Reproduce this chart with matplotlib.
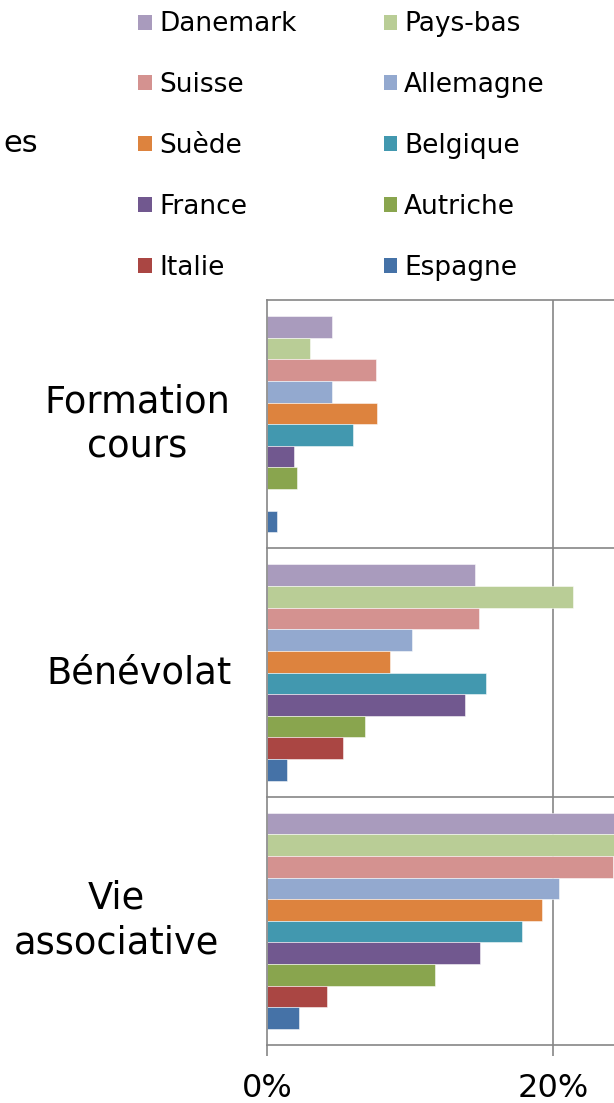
import numpy as np
import matplotlib.pyplot as plt
from matplotlib.patches import Patch
from matplotlib.transforms import blended_transform_factory

# categories (top to bottom) and series (top to bottom within a group)
categories = ['Formation\ncours', 'Bénévolat', 'Vie\nassociative']
pays = ['Danemark', 'Pays-bas', 'Suisse', 'Allemagne', 'Suède',
        'Belgique', 'France', 'Autriche', 'Italie', 'Espagne']
couleurs = ['#A99BBD', '#B9CD96', '#D49290', '#93A9CF', '#DD833E',
            '#4298AF', '#71588F', '#89A54E', '#AA4643', '#4572A7']

# valeurs en % : [Formation cours, Bénévolat, Vie associative]
danemark = [4.5, 14.5, 26.0]
pays_bas = [3.0, 21.4, 25.5]
suisse = [7.6, 14.8, 24.2]
allemagne = [4.5, 10.1, 20.4]
suede = [7.7, 8.6, 19.2]
belgique = [6.0, 15.3, 17.8]
france = [1.9, 13.8, 14.9]
autriche = [2.1, 6.8, 11.7]
italie = [0.0, 5.3, 4.2]
espagne = [0.7, 1.4, 2.2]
valeurs = [danemark, pays_bas, suisse, allemagne, suede,
           belgique, france, autriche, italie, espagne]

xticks = [0, 20]
xticklabels = ['0%', '20%']

W, H = 614, 1103
fig = plt.figure(figsize=(W / 100, H / 100), dpi=100)
ax = fig.add_axes([267.3 / W, (H - 1045) / H, (W - 267.3) / W, 745 / H])

n = len(pays)
h = 0.0871
y = np.arange(len(categories))
for j in range(n):
    ax.barh(y + (j - (n - 1) / 2) * h, valeurs[j], height=h,
            color=couleurs[j], edgecolor=(1, 1, 1, 0.6), linewidth=0.6,
            label=pays[j], zorder=2)

ax.set_xlim(0, (W - 267.3) / 14.3)
ax.set_ylim(len(categories) - 0.5, -0.5)

grey = '#868686'
ax.axvline(20, color=grey, lw=1.2, zorder=1)
for b in np.arange(-0.5, len(categories), 1.0):
    ax.axhline(b, color=grey, lw=1.2, zorder=1, clip_on=False)

for s in ['top', 'right', 'bottom']:
    ax.spines[s].set_visible(False)
ax.spines['left'].set_color(grey)
ax.spines['left'].set_linewidth(1.2)

ax.set_xticks(xticks)
ax.set_xticklabels(xticklabels, fontsize=23)
ax.tick_params(axis='x', length=8, width=1.2, color=grey, pad=12)
ax.set_yticks([])

# category labels
label_cx = [137, 139, 116]
tr = blended_transform_factory(fig.transFigure, ax.transData)
for i, cat in enumerate(categories):
    ax.text(label_cx[i] / W, y[i], cat, transform=tr, ha='center',
            va='center', fontsize=26.5, multialignment='center',
            linespacing=1.28)

fig.text(38 / W, 1 - 143 / H, 'es', ha='right', va='center', fontsize=22)

handles = [Patch(facecolor=c, edgecolor='none') for c in couleurs]
order = list(range(0, n, 2)) + list(range(1, n, 2))
fig.legend([handles[k] for k in order], [pays[k] for k in order],
           ncol=2, loc='upper left', bbox_to_anchor=(120 / W, 1 + 7 / H),
           frameon=False, fontsize=19, handlelength=0.5, handleheight=0.5,
           handletextpad=0.28, columnspacing=3.3, labelspacing=1.32,
           borderpad=0.2)

fig.savefig('out.png', dpi=100)
